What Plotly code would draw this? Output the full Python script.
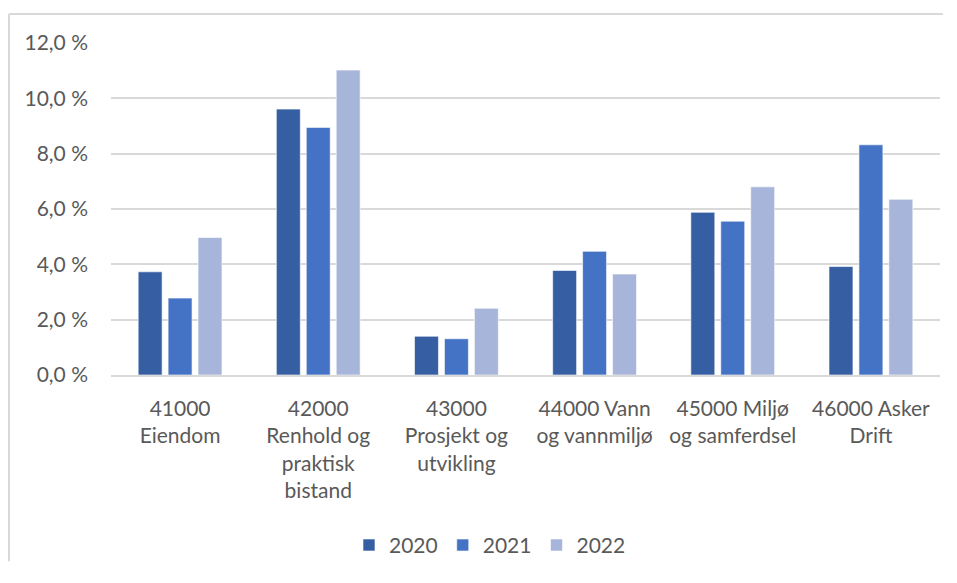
import plotly.graph_objects as go

categories = [
    "41000<br>Eiendom",
    "42000<br>Renhold og<br>praktisk<br>bistand",
    "43000<br>Prosjekt og<br>utvikling",
    "44000 Vann<br>og vannmiljø",
    "45000 Miljø<br>og samferdsel",
    "46000 Asker<br>Drift",
]
values_2020 = [3.73, 9.61, 1.40, 3.78, 5.88, 3.92]
values_2021 = [2.78, 8.95, 1.31, 4.47, 5.56, 8.32]
values_2022 = [4.97, 11.02, 2.41, 3.65, 6.80, 6.35]
series_names = ["2020", "2021", "2022"]
tick_values = [0, 2, 4, 6, 8, 10, 12]
tick_labels = ["0,0 %", "2,0 %", "4,0 %", "6,0 %", "8,0 %", "10,0 %", "12,0 %"]

colors = ["#365EA3", "#4472C4", "#A8B5DA"]
font_family = "Lato, 'Open Sans', sans-serif"
text_color = "#595959"
fs = 21

fig = go.Figure()
for name, vals, col in zip(series_names, [values_2020, values_2021, values_2022], colors):
    fig.add_trace(go.Bar(
        name=name, x=categories, y=vals,
        marker=dict(color=col, line=dict(color="rgba(255,255,255,0.6)", width=1)),
    ))

# page body has an 8px margin; work in screen coordinates minus 8
OFF = 8
W, H = 935, 560
L, R, T = 111 - OFF, W - (940 - OFF), 43.3 - OFF
B = H - (379.5 - OFF)
pw, ph = W - L - R, H - T - B

def px_x(sx):
    return (sx - OFF - L) / pw

def px_y(sy):
    return (H - B - (sy - OFF)) / ph

border = dict(color="#D9D9D9", width=2)
fig.update_layout(
    width=W, height=H,
    margin=dict(l=L, r=R, t=T, b=B),
    paper_bgcolor="white", plot_bgcolor="white",
    barmode="group", bargap=0.35, bargroupgap=0.2,
    font=dict(family=font_family, size=fs, color=text_color),
    showlegend=True,
    legend=dict(orientation="h", x=px_x(490), xanchor="center",
                y=px_y(552), yanchor="middle",
                font=dict(size=fs, color=text_color),
                itemwidth=30, tracegroupgap=0, traceorder="normal"),
    xaxis=dict(showgrid=False, showline=True, linecolor="#D9D9D9", linewidth=1.5,
               ticks="", tickfont=dict(size=fs, color=text_color), ticklabelstandoff=14),
    yaxis=dict(range=[0, 12], tickvals=tick_values, ticktext=tick_labels,
               showgrid=True, gridcolor="#D9D9D9", gridwidth=1.5, zeroline=False,
               showline=False, ticks="", tickfont=dict(size=fs, color=text_color),
               ticklabelstandoff=22),
    shapes=[
        dict(type="line", xref="paper", yref="paper",
             x0=px_x(OFF + 1), x1=px_x(OFF + W), y0=px_y(14), y1=px_y(14),
             line=border, layer="below"),
        dict(type="line", xref="paper", yref="paper",
             x0=px_x(OFF + 1), x1=px_x(OFF + 1), y0=px_y(14), y1=px_y(OFF + H),
             line=border, layer="below"),
    ],
)

fig.write_html("out.html")
